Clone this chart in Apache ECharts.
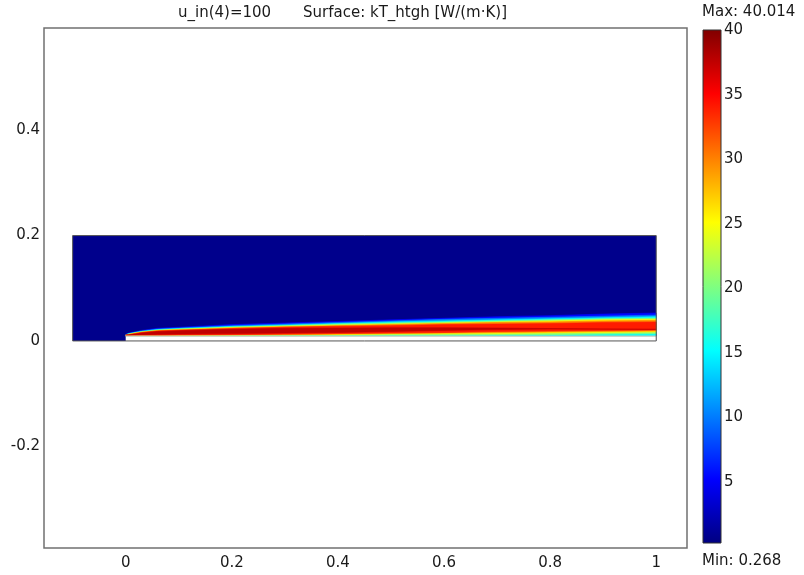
<!DOCTYPE html>
<html>
<head>
<meta charset="utf-8">
<script src="https://cdn.jsdelivr.net/npm/echarts@6/dist/echarts.min.js"></script>
<style>
  html, body { margin: 0; padding: 0; background: #fff; }
  #chart { width: 804px; height: 575px; }
</style>
</head>
<body>
<div id="chart"></div>
<script>
// Surface plot of kT_htgh over the flat-plate channel domain.

// Colour range of the surface (W/(m·K))
const colorMin = 0.268;
const colorMax = 40.014;
const colorTicks = [5, 10, 15, 20, 25, 30, 35, 40];

// Axis tick labels
const xTickValues = [0, 0.2, 0.4, 0.6, 0.8, 1];
const yTickValues = [-0.2, 0, 0.2, 0.4];

// Geometry: fluid domain and the heated plate
const domainX = [-0.1, 1];
const domainY = [0, 0.2];
const plateX = [0, 1];
const plateY = [0, 0.01];

// Stations along the plate where the contour edges are given
const xStations = [0, 0.005, 0.015, 0.03, 0.06, 0.1, 0.2, 0.3, 0.4, 0.5, 0.6, 0.7, 0.8, 0.9, 1.0];

// Contour levels (lower bound of each filled band)
const bandLevels = [3, 8, 13, 18, 23, 28, 32, 36];

// Upper / lower edge (y) of the region where kT >= level, per station
const top03 = [0.0125, 0.0145, 0.017, 0.020, 0.024, 0.026, 0.031, 0.034, 0.037, 0.040, 0.043, 0.046, 0.048, 0.051, 0.053];
const bot03 = [0.01, 0.01, 0.01, 0.01, 0.01, 0.01, 0.01, 0.01, 0.01, 0.01, 0.01, 0.01, 0.01, 0.01, 0.01];
const top08 = [0.012, 0.014, 0.016, 0.019, 0.0225, 0.0245, 0.029, 0.032, 0.035, 0.038, 0.041, 0.043, 0.045, 0.047, 0.049];
const bot08 = [0.01, 0.01, 0.01, 0.01, 0.01, 0.01, 0.01, 0.01, 0.01, 0.01, 0.01, 0.01, 0.01, 0.01, 0.01];
const top13 = [0.0115, 0.0135, 0.0155, 0.018, 0.0215, 0.0235, 0.0275, 0.030, 0.033, 0.036, 0.038, 0.040, 0.042, 0.044, 0.046];
const bot13 = [0.01, 0.01, 0.01, 0.01, 0.01, 0.01, 0.01, 0.01, 0.01, 0.01, 0.01, 0.01, 0.01, 0.01, 0.01];
const top18 = [0.011, 0.013, 0.015, 0.0175, 0.0205, 0.0225, 0.0265, 0.029, 0.032, 0.034, 0.036, 0.038, 0.040, 0.042, 0.043];
const bot18 = [0.01, 0.01, 0.01, 0.0102, 0.0102, 0.0102, 0.0103, 0.0104, 0.0105, 0.011, 0.011, 0.0115, 0.012, 0.013, 0.014];
const top23 = [0.0105, 0.0125, 0.0145, 0.017, 0.020, 0.022, 0.0255, 0.028, 0.030, 0.032, 0.034, 0.036, 0.038, 0.040, 0.041];
const bot23 = [0.0105, 0.0105, 0.0105, 0.0105, 0.0105, 0.0105, 0.011, 0.0115, 0.012, 0.013, 0.0135, 0.014, 0.015, 0.016, 0.017];
const top28 = [0.0105, 0.012, 0.014, 0.0165, 0.0195, 0.021, 0.0245, 0.027, 0.029, 0.031, 0.033, 0.035, 0.036, 0.038, 0.039];
const bot28 = [0.0105, 0.0105, 0.0105, 0.0105, 0.0105, 0.011, 0.0115, 0.012, 0.013, 0.014, 0.015, 0.016, 0.017, 0.018, 0.019];
const top32 = [0.0105, 0.0115, 0.0135, 0.016, 0.019, 0.0205, 0.0235, 0.026, 0.028, 0.029, 0.031, 0.032, 0.033, 0.035, 0.036];
const bot32 = [0.0105, 0.0105, 0.011, 0.011, 0.011, 0.0115, 0.012, 0.013, 0.014, 0.015, 0.016, 0.018, 0.019, 0.020, 0.021];
const top36 = [0.0115, 0.0115, 0.0125, 0.015, 0.018, 0.0195, 0.022, 0.024, 0.0245, 0.025, 0.025, 0.0245, 0.0235, 0.0225, 0.022];
const bot36 = [0.0115, 0.0115, 0.0115, 0.012, 0.0125, 0.013, 0.014, 0.015, 0.016, 0.018, 0.020, 0.0215, 0.0225, 0.0225, 0.022];

const bandTops = [top03, top08, top13, top18, top23, top28, top32, top36];
const bandBottoms = [bot03, bot08, bot13, bot18, bot23, bot28, bot32, bot36];

// Classic jet colour map
function jetAt(t) {
  const c = x => Math.round(255 * Math.max(0, Math.min(1, x)));
  return 'rgb(' + c(1.5 - Math.abs(4 * t - 3)) + ',' +
                  c(1.5 - Math.abs(4 * t - 2)) + ',' +
                  c(1.5 - Math.abs(4 * t - 1)) + ')';
}
function jet(v) { return jetAt((v - colorMin) / (colorMax - colorMin)); }

const bandColors = bandLevels.map((lv, i) => {
  const hi = i + 1 < bandLevels.length ? bandLevels[i + 1] : colorMax - 1;
  return jet((lv + hi) / 2);
});
const backgroundColor = jet(colorMin + 0.5);

const FONT = "'DejaVu Sans', Verdana, sans-serif";
const TEXT = '#1a1a1a';

const chart = echarts.init(document.getElementById('chart'), null, { renderer: 'canvas' });

const option = {
  animation: false,
  backgroundColor: '#ffffff',
  grid: [
    { left: 44, top: 28, width: 643, height: 520, show: true,
      borderColor: '#707070', borderWidth: 1.5, backgroundColor: '#fff' },
    { left: 703, top: 30, width: 18, height: 513, show: false }
  ],
  xAxis: [
    { gridIndex: 0, type: 'value', min: -0.154, max: 1.058,
      axisLine: { show: false, onZero: false }, axisTick: { show: false },
      splitLine: { show: false },
      axisLabel: { customValues: xTickValues, margin: 8, fontFamily: FONT, fontSize: 15, color: TEXT } },
    { gridIndex: 1, type: 'value', min: 0, max: 1, show: false }
  ],
  yAxis: [
    { gridIndex: 0, type: 'value', min: -0.393, max: 0.594,
      axisLine: { show: false, onZero: false }, axisTick: { show: false },
      splitLine: { show: false },
      axisLabel: { customValues: yTickValues, margin: 4, fontFamily: FONT, fontSize: 15, color: TEXT } },
    { gridIndex: 1, type: 'value', position: 'right', min: colorMin, max: colorMax,
      axisLine: { show: false, onZero: false }, splitLine: { show: false },
      axisTick: { show: true, inside: true, length: 3, customValues: colorTicks,
                  lineStyle: { color: '#222', width: 1 } },
      axisLabel: { customValues: colorTicks, margin: 3, fontFamily: FONT, fontSize: 15, color: TEXT } },
    { gridIndex: 1, type: 'value', position: 'left', min: colorMin, max: colorMax,
      axisLine: { show: false, onZero: false }, splitLine: { show: false },
      axisTick: { show: true, inside: true, length: 3, customValues: colorTicks,
                  lineStyle: { color: '#222', width: 1 } },
      axisLabel: { show: false } }
  ],
  series: [
    {
      // fluid domain background
      type: 'custom', xAxisIndex: 0, yAxisIndex: 0, silent: true,
      data: [[domainX[0], domainY[1]]],
      renderItem: (params, api) => {
        const a = api.coord([domainX[0], domainY[1]]);
        const b = api.coord([domainX[1], domainY[0]]);
        return { type: 'rect', shape: { x: a[0], y: a[1], width: b[0] - a[0], height: b[1] - a[1] },
                 style: { fill: backgroundColor } };
      }
    },
    {
      // filled contour bands of kT_htgh
      type: 'custom', xAxisIndex: 0, yAxisIndex: 0, silent: true,
      data: bandLevels.map(lv => [0.5, 0.02, lv]),
      encode: { x: 0, y: 1 },
      renderItem: (params, api) => {
        const i = params.dataIndex;
        const tops = bandTops[i], bots = bandBottoms[i];
        const pts = [];
        for (let k = 0; k < xStations.length; k++) pts.push(api.coord([xStations[k], tops[k]]));
        for (let k = xStations.length - 1; k >= 0; k--) pts.push(api.coord([xStations[k], bots[k]]));
        return { type: 'polygon', shape: { points: pts },
                 style: { fill: bandColors[i], stroke: bandColors[i], lineWidth: 0.6 } };
      }
    },
    {
      // plate (not part of the fluid) and domain outline
      type: 'custom', xAxisIndex: 0, yAxisIndex: 0, silent: true,
      data: [[plateX[0], plateY[1]]],
      renderItem: (params, api) => {
        const p = api.coord([plateX[0], plateY[1]]);
        const q = api.coord([plateX[1], plateY[0]]);
        const a = api.coord([domainX[0], domainY[1]]);
        const b = api.coord([domainX[1], domainY[0]]);
        return { type: 'group', children: [
          { type: 'rect', shape: { x: p[0], y: p[1], width: q[0] - p[0], height: q[1] - p[1] },
            style: { fill: '#ffffff' } },
          { type: 'line', shape: { x1: p[0], y1: p[1] + 0.5, x2: q[0], y2: p[1] + 0.5 },
            style: { stroke: '#9ab59a', lineWidth: 0.8 } },
          { type: 'rect', shape: { x: a[0], y: a[1], width: b[0] - a[0], height: b[1] - a[1] },
            style: { fill: null, stroke: '#555', lineWidth: 1 } }
        ] };
      }
    },
    {
      // colour bar
      type: 'custom', xAxisIndex: 1, yAxisIndex: 1, silent: true, z: 1,
      data: [[0, colorMax]],
      renderItem: (params, api) => {
        const a = api.coord([0, colorMax]);
        const b = api.coord([1, colorMin]);
        return { type: 'rect', shape: { x: a[0], y: a[1], width: b[0] - a[0], height: b[1] - a[1] },
          style: {
            fill: new echarts.graphic.LinearGradient(0, 1, 0, 0, [
              { offset: 0, color: jetAt(0) },
              { offset: 0.125, color: jetAt(0.125) },
              { offset: 0.375, color: jetAt(0.375) },
              { offset: 0.625, color: jetAt(0.625) },
              { offset: 0.875, color: jetAt(0.875) },
              { offset: 1, color: jetAt(1) }
            ]),
            stroke: '#333', lineWidth: 1
          } };
      }
    }
  ],
  graphic: [
    { type: 'text', x: 178, y: 13,
      style: { text: 'u_in(4)=100', font: '15px ' + FONT,
               fill: TEXT, align: 'left', verticalAlign: 'middle' } },
    { type: 'text', x: 405, y: 13,
      style: { text: 'Surface: kT_htgh [W/(m·K)]', font: '15px ' + FONT,
               fill: TEXT, align: 'center', verticalAlign: 'middle' } },
    { type: 'text', x: 702, y: 12,
      style: { text: 'Max: 40.014', font: '15px ' + FONT, fill: TEXT, align: 'left', verticalAlign: 'middle' } },
    { type: 'text', x: 702, y: 561,
      style: { text: 'Min: 0.268', font: '15px ' + FONT, fill: TEXT, align: 'left', verticalAlign: 'middle' } }
  ]
};

chart.setOption(option);
</script>
</body>
</html>
